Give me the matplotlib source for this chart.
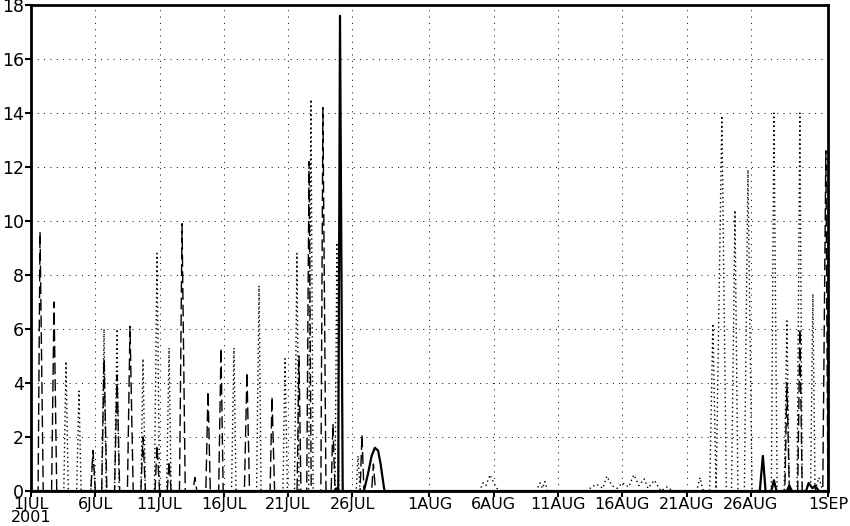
import matplotlib
matplotlib.use('Agg')
import matplotlib.pyplot as plt

# time in days since 1 Jul 2001 00Z
solid_t = [0.0, 23.6, 23.75, 23.9, 24.04, 24.25, 25.9, 26.2, 26.5, 26.75, 27.0, 27.2, 27.5,
           56.7, 56.94, 57.15, 57.6, 57.8, 58.0, 58.8, 59.0, 59.2, 60.3, 60.5, 60.8, 61.0, 61.3, 62.0]
solid_v = [0.0, 0.0, 0.1, 0.0, 17.6, 0.0, 0.0, 0.6, 1.3, 1.6, 1.5, 1.0, 0.0,
           0.0, 1.3, 0.0, 0.0, 0.4, 0.0, 0.0, 0.2, 0.0, 0.0, 0.3, 0.1, 0.2, 0.0, 0.0]

dash_t = [0.0, 0.55, 0.7, 0.95, 1.6, 1.79, 2.0, 4.65, 4.82, 5.0, 5.5, 5.68, 5.9,
          6.5, 6.69, 6.9, 7.5, 7.7, 7.95, 8.55, 8.71, 8.9, 9.65, 9.8, 10.0,
          10.6, 10.74, 10.9, 11.55, 11.75, 12.0, 12.6, 12.75, 12.9,
          13.6, 13.77, 13.95, 14.6, 14.78, 14.95, 16.6, 16.8, 17.0,
          18.6, 18.75, 18.95, 20.7, 20.85, 21.0, 21.45, 21.63, 21.8,
          22.55, 22.71, 22.95, 23.35, 23.49, 23.65, 25.6, 25.75, 25.9,
          26.5, 26.64, 26.8, 58.65, 58.81, 59.0, 59.65, 59.82, 60.0,
          61.6, 61.84, 62.0]
dash_v = [0.0, 0.0, 9.6, 0.0, 0.0, 7.0, 0.0, 0.0, 1.5, 0.0, 0.0, 4.9, 0.0,
          0.0, 4.3, 0.0, 0.0, 6.1, 0.0, 0.0, 2.0, 0.0, 0.0, 1.7, 0.0,
          0.0, 1.1, 0.0, 0.0, 9.9, 0.0, 0.0, 0.5, 0.0,
          0.0, 3.7, 0.0, 0.0, 5.3, 0.0, 0.0, 4.4, 0.0,
          0.0, 3.5, 0.0, 0.0, 5.0, 0.0, 0.0, 12.2, 0.0,
          0.0, 14.2, 0.0, 0.0, 2.5, 0.0, 0.0, 2.1, 0.0,
          0.0, 1.0, 0.0, 0.0, 4.0, 0.0, 0.0, 6.0, 0.0,
          0.0, 12.6, 0.0]

dot_t = [0.0, 2.55, 2.72, 2.9, 3.55, 3.73, 3.9, 4.65, 4.82, 5.0, 5.5, 5.68, 5.85,
         6.5, 6.69, 6.85, 8.55, 8.71, 8.9, 9.6, 9.8, 10.0, 10.55, 10.74, 10.9,
         15.6, 15.79, 15.95, 17.55, 17.74, 17.9, 19.6, 19.76, 19.95, 20.5, 20.69, 20.85,
         21.6, 21.78, 21.95, 23.65, 23.8, 23.95, 25.3, 25.44, 25.6,
         34.9, 35.16, 35.4, 35.71, 36.0, 36.25, 36.5, 39.3, 39.6, 39.8, 39.98, 40.2,
         43.3, 43.6, 44.0, 44.5, 44.8, 45.2, 45.6, 46.0, 46.5, 46.9, 47.3, 47.7, 48.0,
         48.5, 49.0, 49.5, 49.9, 51.8, 52.04, 52.3, 52.8, 53.05, 53.3, 53.75, 54.1,
         54.5, 54.77, 55.0, 55.5, 55.78, 56.1, 57.6, 57.8, 58.05, 58.6, 58.81, 59.0,
         59.6, 59.82, 60.0, 60.65, 60.83, 61.0, 61.3, 61.6, 62.0]
dot_v = [0.0, 0.0, 4.8, 0.0, 0.0, 3.7, 0.0, 0.0, 1.5, 0.0, 0.0, 6.0, 0.0,
         0.0, 6.0, 0.0, 0.0, 4.9, 0.0, 0.0, 8.8, 0.0, 0.0, 5.3, 0.0,
         0.0, 5.3, 0.0, 0.0, 7.6, 0.0, 0.0, 4.9, 0.0, 0.0, 8.8, 0.0,
         0.0, 14.5, 0.0, 0.0, 9.2, 0.0, 0.0, 1.3, 0.0,
         0.0, 0.3, 0.2, 0.6, 0.3, 0.1, 0.0, 0.0, 0.3, 0.1, 0.35, 0.0,
         0.0, 0.15, 0.25, 0.1, 0.55, 0.2, 0.1, 0.3, 0.15, 0.6, 0.2, 0.45, 0.1,
         0.4, 0.0, 0.15, 0.0, 0.0, 0.5, 0.0, 0.0, 6.2, 0.0, 13.9, 0.0,
         0.0, 10.4, 0.0, 0.0, 11.9, 0.0, 0.0, 14.0, 0.0, 0.0, 6.3, 0.0,
         0.0, 14.0, 0.0, 0.0, 7.3, 0.0, 0.5, 0.0, 0.0]

tick_days = [0, 5, 10, 15, 20, 25, 31, 36, 41, 46, 51, 56, 62]
tick_labels = ['1JUL\n2001', '6JUL', '11JUL', '16JUL', '21JUL', '26JUL', '1AUG',
               '6AUG', '11AUG', '16AUG', '21AUG', '26AUG', '1SEP']
y_ticks = [0, 2, 4, 6, 8, 10, 12, 14, 16, 18]

fig = plt.figure(figsize=(8.5, 5.26), dpi=100)
ax = fig.add_axes([0.0365, 0.0665, 0.9375, 0.924])

ax.plot(dot_t, dot_v, color='black', lw=1.0, dashes=(1, 2.2))
ax.plot(dash_t, dash_v, color='black', lw=1.0, dashes=(8.5, 3.5))
ax.plot(solid_t, solid_v, color='black', lw=1.6)

ax.set_xlim(0, 62)
ax.set_ylim(0, 18)
ax.set_xticks(tick_days)
ax.set_xticklabels(tick_labels, fontsize=11.5, linespacing=0.85)
ax.set_yticks(y_ticks)
ax.set_yticklabels([str(v) for v in y_ticks], fontsize=12.5)
ax.tick_params(direction='out', length=4, width=1.5, pad=1)
ax.tick_params(axis='x', pad=0)
ax.grid(True, color='black', lw=0.7, dashes=(1, 5.5))
for s in ax.spines.values():
    s.set_linewidth(2)

fig.savefig('out.png', dpi=100)
